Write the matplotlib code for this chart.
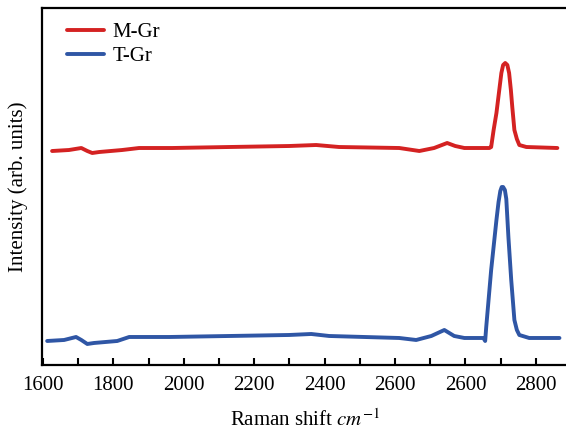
import matplotlib
matplotlib.use("Agg")
import matplotlib.pyplot as plt

# Raman spectra (arb. units)
m_gr_x = [1626, 1674, 1709, 1726, 1740, 1760, 1825, 1873, 1967, 2129, 2299, 2376,
          2441, 2612, 2669, 2711, 2748, 2771, 2797, 2868, 2873, 2880, 2888, 2895,
          2902, 2907, 2913, 2919, 2924, 2929, 2933, 2939, 2946, 2953, 2973, 3061]
m_gr_y = [214, 215, 217, 214, 212, 213, 215, 217, 217, 218, 219, 220,
          218, 217, 214, 217, 222, 219, 217, 217, 218, 235, 252, 272,
          292, 300, 302, 300, 292, 275, 258, 235, 226, 220, 218, 217]

t_gr_x = [1612, 1660, 1694, 1709, 1726, 1745, 1811, 1845, 1959, 2129, 2299, 2362,
          2413, 2612, 2660, 2703, 2740, 2768, 2797, 2851, 2856, 2859, 2873, 2888,
          2894, 2899, 2903, 2907, 2912, 2916, 2922, 2930, 2939, 2946, 2953, 2981, 3067]
t_gr_y = [24, 25, 28, 25, 21, 22, 24, 28, 28, 29, 30, 31,
          29, 27, 25, 29, 35, 29, 27, 27, 24, 38, 95, 145,
          163, 174, 178, 178, 175, 166, 128, 85, 45, 35, 30, 27, 27]

tick_pos = [1600, 1800, 2000, 2200, 2400, 2600, 2800, 3000]
tick_labels = ["1600", "1800", "2000", "2200", "2400", "2600", "2600", "2800"]
minor_pos = [1700, 1900, 2100, 2300, 2500, 2700, 2900]

plt.rcParams['font.family'] = ['Liberation Serif', 'DejaVu Serif']
plt.rcParams['mathtext.fontset'] = 'stix'

fig = plt.figure(figsize=(5.66, 4.38), dpi=100)
ax = fig.add_axes([0.074, 0.1667, 0.93, 0.815])

ax.plot(m_gr_x, m_gr_y, color='#d42222', lw=2.8, label='M-Gr',
        solid_joinstyle='round', solid_capstyle='round')
ax.plot(t_gr_x, t_gr_y, color='#2f56a5', lw=2.8, label='T-Gr',
        solid_joinstyle='round', solid_capstyle='round')

ax.set_xlim(1597, 3092)
ax.set_ylim(0, 357)

ax.set_xticks(tick_pos)
ax.set_xticklabels(tick_labels)
ax.set_xticks(minor_pos, minor=True)
ax.tick_params(axis='x', which='both', direction='in', length=5, width=1.5,
               labelsize=15, pad=8)
ax.tick_params(axis='y', left=False, labelleft=False)

for s in ax.spines.values():
    s.set_linewidth(1.6)
ax.spines['right'].set_visible(False)

ax.set_xlabel(r'Raman shift $cm^{-1}$', fontsize=15, labelpad=10)
ax.set_ylabel('Intensity (arb. units)', fontsize=15, labelpad=10)

ax.legend(loc='upper left', frameon=False, fontsize=15, handlelength=1.8,
          handletextpad=0.4, labelspacing=0.2, borderaxespad=0.3,
          bbox_to_anchor=(0.02, 1.0))

fig.savefig("out.png", dpi=100)
